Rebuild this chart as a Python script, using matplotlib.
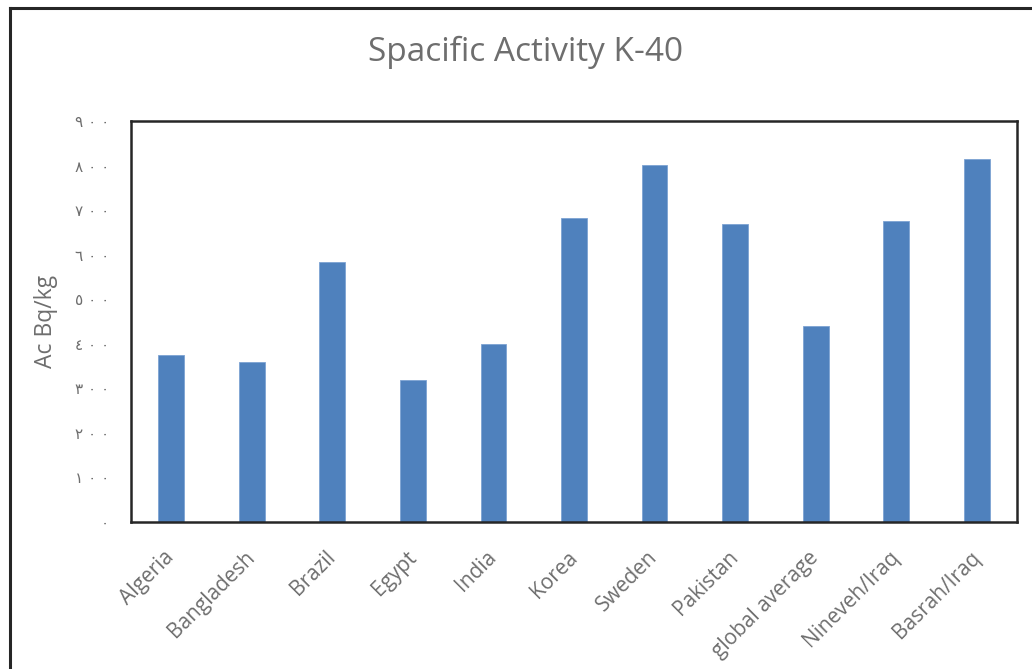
import matplotlib.pyplot as plt
from matplotlib.lines import Line2D

# K-40 specific activity by location (Bq/kg)
locations = [
    "Algeria", "Bangladesh", "Brazil", "Egypt", "India", "Korea",
    "Sweden", "Pakistan", "global average", "Nineveh/Iraq", "Basrah/Iraq",
]
activity = [375, 358, 583, 319, 399, 682, 801, 669, 440, 676, 814]

y_ticks = [0, 100, 200, 300, 400, 500, 600, 700, 800, 900]

ARABIC_DIGITS = str.maketrans("0123456789", "٠١٢٣٤٥٦٧٨٩")

BAR_COLOR = "#4F81BD"
TICK_COLOR = "#6E6E6E"

plt.rcParams["font.family"] = ["Open Sans", "DejaVu Sans"]

fig = plt.figure(figsize=(10.32, 6.69), dpi=100)
ax = fig.add_axes([131 / 1032, 1 - 522 / 669, 886 / 1032, 401 / 669])

x = list(range(len(locations)))
ax.bar(x, activity, width=0.32, color=BAR_COLOR, edgecolor="#7DA3D3", linewidth=0.6)

ax.set_xlim(-0.5, len(locations) - 0.5)
ax.set_ylim(0, 900)
ax.set_yticks(y_ticks)
# Arabic-Indic digits, spread out a little
ax.set_yticklabels([" ".join(str(v).translate(ARABIC_DIGITS)) for v in y_ticks],
                   family=["DejaVu Sans"], fontsize=11, color=TICK_COLOR)
ax.tick_params(axis="y", length=0, pad=16)

ax.set_xticks([i - 0.09 for i in x])
ax.set_xticklabels(locations, rotation=45, ha="right", rotation_mode="anchor",
                   fontsize=15, color=TICK_COLOR)
ax.tick_params(axis="x", length=0, pad=18)

for spine in ax.spines.values():
    spine.set_color("#262626")
    spine.set_linewidth(1.8)

ax.set_ylabel("Ac Bq/kg", fontsize=16.5, color=TICK_COLOR, labelpad=12)
fig.text(526 / 1032, 1 - 52 / 669, "Spacific Activity K-40", ha="center", va="center",
         fontsize=24, color=TICK_COLOR)

# outer frame: only top and left edges
fig.add_artist(Line2D([10 / 1032, 10 / 1032], [0, 1 - 8 / 669], transform=fig.transFigure,
                      color="#262626", linewidth=2.2))
fig.add_artist(Line2D([10 / 1032, 1], [1 - 8 / 669, 1 - 8 / 669], transform=fig.transFigure,
                      color="#262626", linewidth=2.2))

fig.savefig("out.png", dpi=100)
